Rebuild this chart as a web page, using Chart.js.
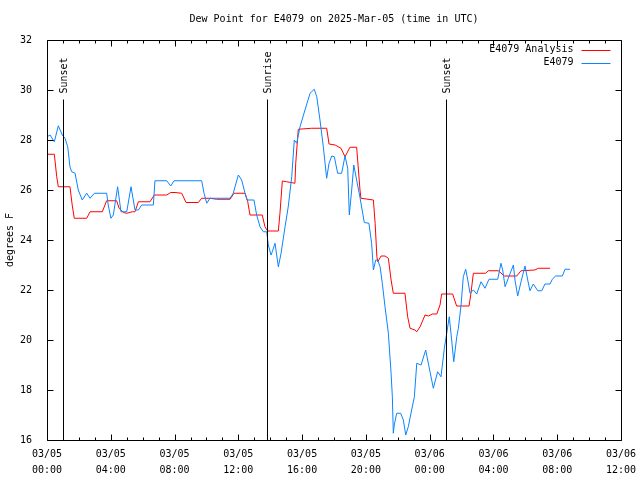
<!DOCTYPE html>
<html>
<head>
<meta charset="utf-8">
<script src="https://cdn.jsdelivr.net/npm/chart.js@4.4.1/dist/chart.umd.min.js"></script>
<style>
  html, body { margin:0; padding:0; background:#fff; }
  #wrap { width:640px; height:480px; }
</style>
</head>
<body>
<div id="wrap"><canvas id="ch"></canvas></div>
<script>
// hours since 03/05 00:00 UTC
const obsHours = [0,0.19,0.46,0.71,0.96,1.13,1.30,1.44,1.55,1.76,1.96,2.21,2.49,2.70,2.97,3.74,3.84,4.01,4.16,4.43,4.64,5.00,5.27,5.52,5.73,5.94,6.67,6.77,7.51,7.76,7.97,9.70,9.85,10.02,10.22,11.48,11.68,12.00,12.21,12.42,12.56,12.98,13.15,13.36,13.57,13.78,13.88,14.05,14.13,14.30,14.51,14.68,14.93,15.13,15.35,15.51,15.66,15.87,16.18,16.50,16.76,16.92,17.12,17.33,17.54,17.69,17.86,18.02,18.23,18.48,18.69,18.86,18.96,19.11,19.24,19.42,19.63,19.90,20.19,20.36,20.47,20.62,20.74,20.89,21.03,21.20,21.41,21.58,21.66,21.72,21.78,21.93,22.18,22.35,22.50,22.66,22.87,23.04,23.19,23.46,23.75,23.96,24.23,24.50,24.71,24.92,25.07,25.23,25.38,25.51,25.70,25.80,25.97,26.11,26.26,26.39,26.53,26.74,26.95,27.22,27.47,27.72,28.27,28.47,28.58,28.73,28.93,29.25,29.35,29.52,29.73,29.98,30.15,30.29,30.50,30.78,31.03,31.23,31.55,31.69,31.90,32.32,32.49,32.80];
const obsDew = [28.13,28.2,27.93,28.57,28.2,28.07,27.73,26.93,26.73,26.67,26.0,25.6,25.87,25.67,25.87,25.87,25.4,24.87,25.0,26.13,25.13,25.13,26.13,25.2,25.2,25.4,25.4,26.37,26.37,26.16,26.37,26.37,25.87,25.47,25.67,25.67,25.87,26.6,26.4,25.87,25.6,25.6,25.0,24.53,24.33,24.33,23.8,23.4,23.53,23.87,22.93,23.47,24.53,25.33,26.53,28.0,27.87,28.53,29.2,29.87,30.03,29.73,28.8,27.73,26.47,27.07,27.36,27.33,26.67,26.67,27.36,26.87,25.0,26.0,27.0,26.4,25.7,24.7,24.67,23.87,22.8,23.2,23.2,22.93,22.27,21.33,20.27,18.67,17.73,16.27,16.6,17.07,17.07,16.8,16.2,16.53,17.2,17.73,19.07,19.0,19.6,18.93,18.07,18.73,18.53,19.67,20.27,20.93,20.0,19.13,20.13,20.47,21.4,22.53,22.83,22.4,21.87,22.0,21.84,22.33,22.07,22.43,22.43,23.07,22.8,22.13,22.47,23.0,22.4,21.76,22.33,22.96,22.4,21.97,22.24,21.97,21.97,22.24,22.24,22.43,22.56,22.56,22.83,22.83];

const anaHours = [0,0.46,0.61,0.71,1.44,1.58,1.71,2.49,2.70,3.47,3.74,4.37,4.52,4.79,5.00,5.35,5.52,5.73,6.46,6.73,7.51,7.76,8.03,8.45,8.72,9.49,9.70,10.22,10.64,11.48,11.73,12.42,12.59,12.73,13.50,13.67,13.84,14.51,14.61,14.76,15.03,15.55,15.60,15.76,16.60,17.54,17.69,18.07,18.44,18.69,19.00,19.42,19.63,19.69,20.47,20.58,20.69,20.75,20.95,21.20,21.41,21.58,21.72,22.45,22.62,22.77,23.08,23.19,23.40,23.71,23.92,24.17,24.45,24.65,24.75,25.44,25.69,26.47,26.59,26.74,27.51,27.68,28.31,28.68,29.46,29.73,30.60,30.81,31.55];
const anaDew = [27.43,27.43,26.53,26.13,26.13,25.4,24.87,24.87,25.13,25.13,25.57,25.57,25.27,25.1,25.07,25.13,25.13,25.53,25.53,25.8,25.8,25.9,25.9,25.87,25.5,25.5,25.67,25.67,25.63,25.63,25.87,25.87,25.53,25.0,25.0,24.53,24.36,24.36,25.07,26.36,26.33,26.27,27.07,28.43,28.47,28.47,27.84,27.8,27.67,27.33,27.71,27.71,26.0,25.67,25.6,24.67,23.33,23.13,23.36,23.36,23.27,22.4,21.87,21.87,20.93,20.47,20.4,20.33,20.53,21.0,20.96,21.04,21.04,21.4,21.84,21.84,21.36,21.36,21.87,22.67,22.67,22.77,22.77,22.56,22.56,22.77,22.8,22.87,22.87];

const tickDates = ['03/05','03/05','03/05','03/05','03/05','03/05','03/06','03/06','03/06','03/06'];
const tickTimes = ['00:00','04:00','08:00','12:00','16:00','20:00','00:00','04:00','08:00','12:00'];

const sunHours = [1.0, 13.8, 25.03];
const sunLabels = ['Sunset', 'Sunrise', 'Sunset'];

const FONT = { family:'DejaVu Sans Mono', size:10 };
const RED = '#ff0000', BLUE = '#0a84ff';

const pts = (xs, ys) => xs.map((h, i) => ({ x:h, y:ys[i] }));

// gnuplot style frame, inward ticks, sun markers and legend
const decor = {
  id:'decor',
  afterDatasetsDraw(chart) {
    const { ctx, chartArea:a, scales:{ x, y } } = chart;
    const L = Math.round(a.left) + .5, R = Math.round(a.right) + .5;
    const T = Math.round(a.top) + .5, B = Math.round(a.bottom) + .5;
    ctx.save();
    ctx.strokeStyle = '#000'; ctx.lineWidth = 1;
    ctx.beginPath();
    ctx.rect(L, T, R - L, B - T);
    for (let v = 16; v <= 32; v += 2) {
      const py = Math.round(y.getPixelForValue(v)) + .5;
      ctx.moveTo(L, py); ctx.lineTo(L + 6, py);
      ctx.moveTo(R, py); ctx.lineTo(R - 6, py);
    }
    for (let h = 0; h <= 36; h++) {
      const px = Math.round(x.getPixelForValue(h)) + .5;
      const len = h % 4 === 0 ? 6 : 3;
      ctx.moveTo(px, B); ctx.lineTo(px, B - len);
      ctx.moveTo(px, T); ctx.lineTo(px, T + len);
    }
    ctx.stroke();

    ctx.font = '10px "DejaVu Sans Mono"';
    ctx.fillStyle = '#000';
    sunHours.forEach((h, i) => {
      const px = Math.round(x.getPixelForValue(h)) + .5;
      ctx.beginPath();
      ctx.moveTo(px, T + 59); ctx.lineTo(px, B);
      ctx.stroke();
      ctx.save();
      ctx.translate(px + 1, T + 53);
      ctx.rotate(-Math.PI / 2);
      ctx.textAlign = 'left'; ctx.textBaseline = 'middle';
      ctx.fillText(sunLabels[i], 0, 0);
      ctx.restore();
    });

    ctx.textAlign = 'right'; ctx.textBaseline = 'middle';
    chart.data.datasets.forEach((ds, i) => {
      const ly = T + 9 + i * 13;
      ctx.fillStyle = '#000';
      ctx.fillText(ds.label, R - 48, ly);
      ctx.strokeStyle = ds.borderColor;
      ctx.beginPath();
      ctx.moveTo(R - 40, Math.round(ly) + .5); ctx.lineTo(R - 11, Math.round(ly) + .5);
      ctx.stroke();
    });
    ctx.restore();
  }
};

new Chart(document.getElementById('ch').getContext('2d'), {
  type:'line',
  data:{
    datasets:[
      { label:'E4079 Analysis', data:pts(anaHours, anaDew), borderColor:RED, borderWidth:1,
        pointRadius:0, tension:0, order:2 },
      { label:'E4079', data:pts(obsHours, obsDew), borderColor:BLUE, borderWidth:1,
        pointRadius:0, tension:0, order:1 }
    ]
  },
  options:{
    responsive:true, maintainAspectRatio:false, animation:false,
    layout:{ padding:{ left:0, right:19, top:0, bottom:0 } },
    plugins:{
      legend:{ display:false },
      tooltip:{ enabled:false },
      title:{ display:true, fullSize:false, text:'Dew Point for E4079 on 2025-Mar-05 (time in UTC)',
        color:'#000', font:{ ...FONT, weight:'normal', lineHeight:1.2 }, padding:{ top:13, bottom:15 } }
    },
    scales:{
      x:{ type:'linear', min:0, max:36,
        grid:{ display:false }, border:{ display:false },
        afterFit: s => { s.height = 40; s.paddingLeft = 0; s.paddingRight = 0; },
        ticks:{ stepSize:4, color:'#000', font:{ ...FONT, lineHeight:1.6 }, padding:-2, maxRotation:0,
          callback:(v, i) => [tickDates[i], tickTimes[i]] } },
      y:{ min:16, max:32,
        grid:{ display:false }, border:{ display:false },
        afterFit: s => { s.width = 47; s.paddingTop = 0; s.paddingBottom = 0; },
        title:{ display:true, text:'degrees F', color:'#000', font:{ ...FONT, lineHeight:1.2 }, padding:{ top:4, bottom:0 } },
        ticks:{ stepSize:2, color:'#000', font:FONT, padding:7 } }
    }
  },
  plugins:[decor]
});
</script>
</body>
</html>
